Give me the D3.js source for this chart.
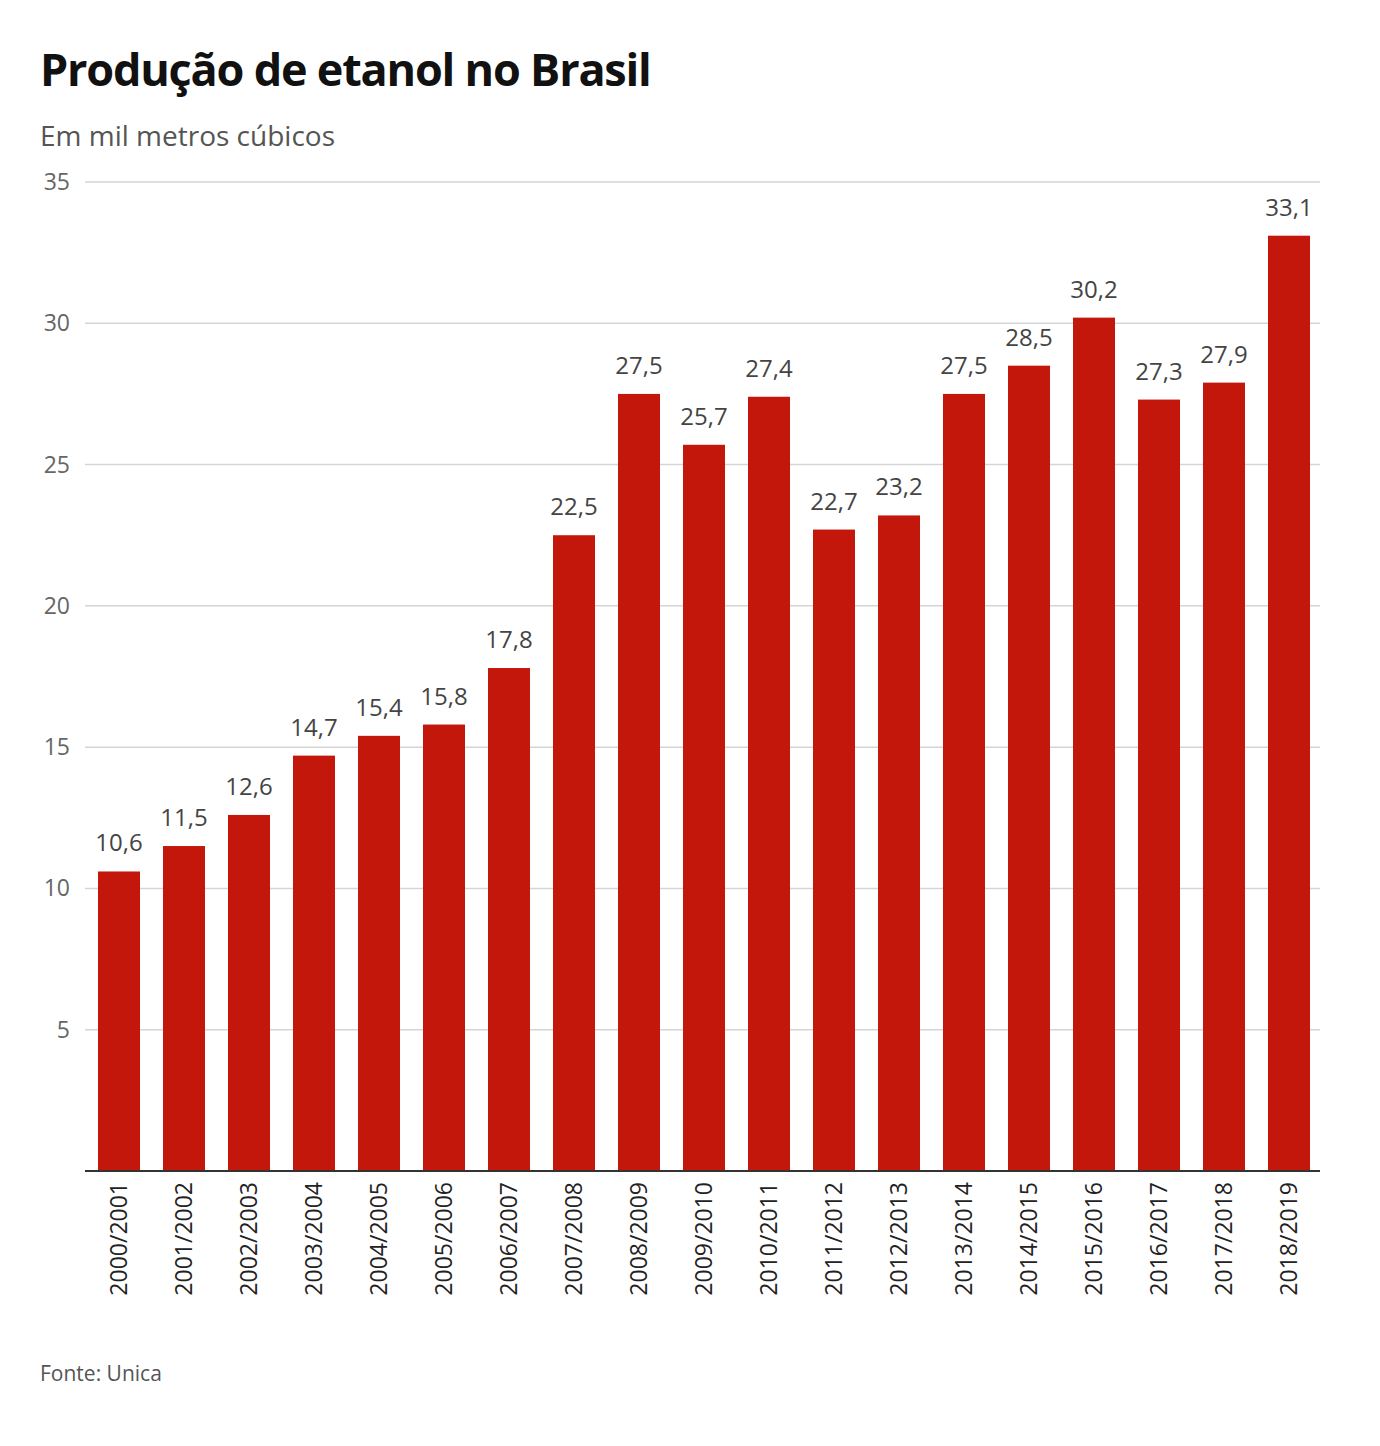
<!DOCTYPE html>
<html><head><meta charset="utf-8">
<script src="https://cdn.jsdelivr.net/npm/d3@7"></script>
<style>body{margin:0;background:#fff;font-family:"Open Sans",sans-serif}</style>
</head><body>
<svg id="c" width="1380" height="1446"></svg>
<script>
const categories=["2000/2001","2001/2002","2002/2003","2003/2004","2004/2005","2005/2006","2006/2007","2007/2008","2008/2009","2009/2010","2010/2011","2011/2012","2012/2013","2013/2014","2014/2015","2015/2016","2016/2017","2017/2018","2018/2019"];
const values=[10.6,11.5,12.6,14.7,15.4,15.8,17.8,22.5,27.5,25.7,27.4,22.7,23.2,27.5,28.5,30.2,27.3,27.9,33.1];
const yTicks=[5,10,15,20,25,30,35];
const svg=d3.select("#c");
const x=d3.scaleBand().domain(categories).range([86.5,1321.5]).paddingInner(0.354).paddingOuter(0.177);
const y=d3.scaleLinear().domain([0,35]).range([1171,182]);
svg.append("text").attr("x",40).attr("y",86).attr("font-size",45).attr("font-weight",700).attr("letter-spacing",-1.2).attr("fill","#111").text("Produção de etanol no Brasil");
svg.append("text").attr("x",40).attr("y",146).attr("font-size",28).attr("fill","#555").text("Em mil metros cúbicos");
const g=svg.append("g");
g.selectAll("line.grid").data(yTicks).join("line").attr("x1",85).attr("x2",1320).attr("y1",d=>y(d)).attr("y2",d=>y(d)).attr("stroke","#d5d5d5").attr("stroke-width",1.5);
g.selectAll("text.yt").data(yTicks).join("text").attr("x",70).attr("y",d=>y(d)+8).attr("text-anchor","end").attr("font-size",23).attr("fill","#666").text(d=>d);
g.selectAll("rect").data(values).join("rect").attr("x",(d,i)=>x(categories[i])).attr("width",x.bandwidth()).attr("y",d=>y(d)).attr("height",d=>y(0)-y(d)).attr("fill","#c4170c");
g.selectAll("text.v").data(values).join("text").attr("x",(d,i)=>x(categories[i])+x.bandwidth()/2).attr("y",d=>y(d)-20).attr("text-anchor","middle").attr("font-size",24).attr("fill","#444").text(d=>d.toFixed(1).replace(".",","));
g.append("line").attr("x1",85).attr("x2",1320).attr("y1",y(0)).attr("y2",y(0)).attr("stroke","#333").attr("stroke-width",2);
g.selectAll("text.xl").data(categories).join("text").attr("transform",d=>`translate(${x(d)+x.bandwidth()/2+8},1182) rotate(-90)`).attr("text-anchor","end").attr("font-size",23).attr("fill","#222").text(d=>d);
svg.append("text").attr("x",40).attr("y",1381).attr("font-size",21).attr("fill","#555").text("Fonte: Unica");
</script>
</body></html>
